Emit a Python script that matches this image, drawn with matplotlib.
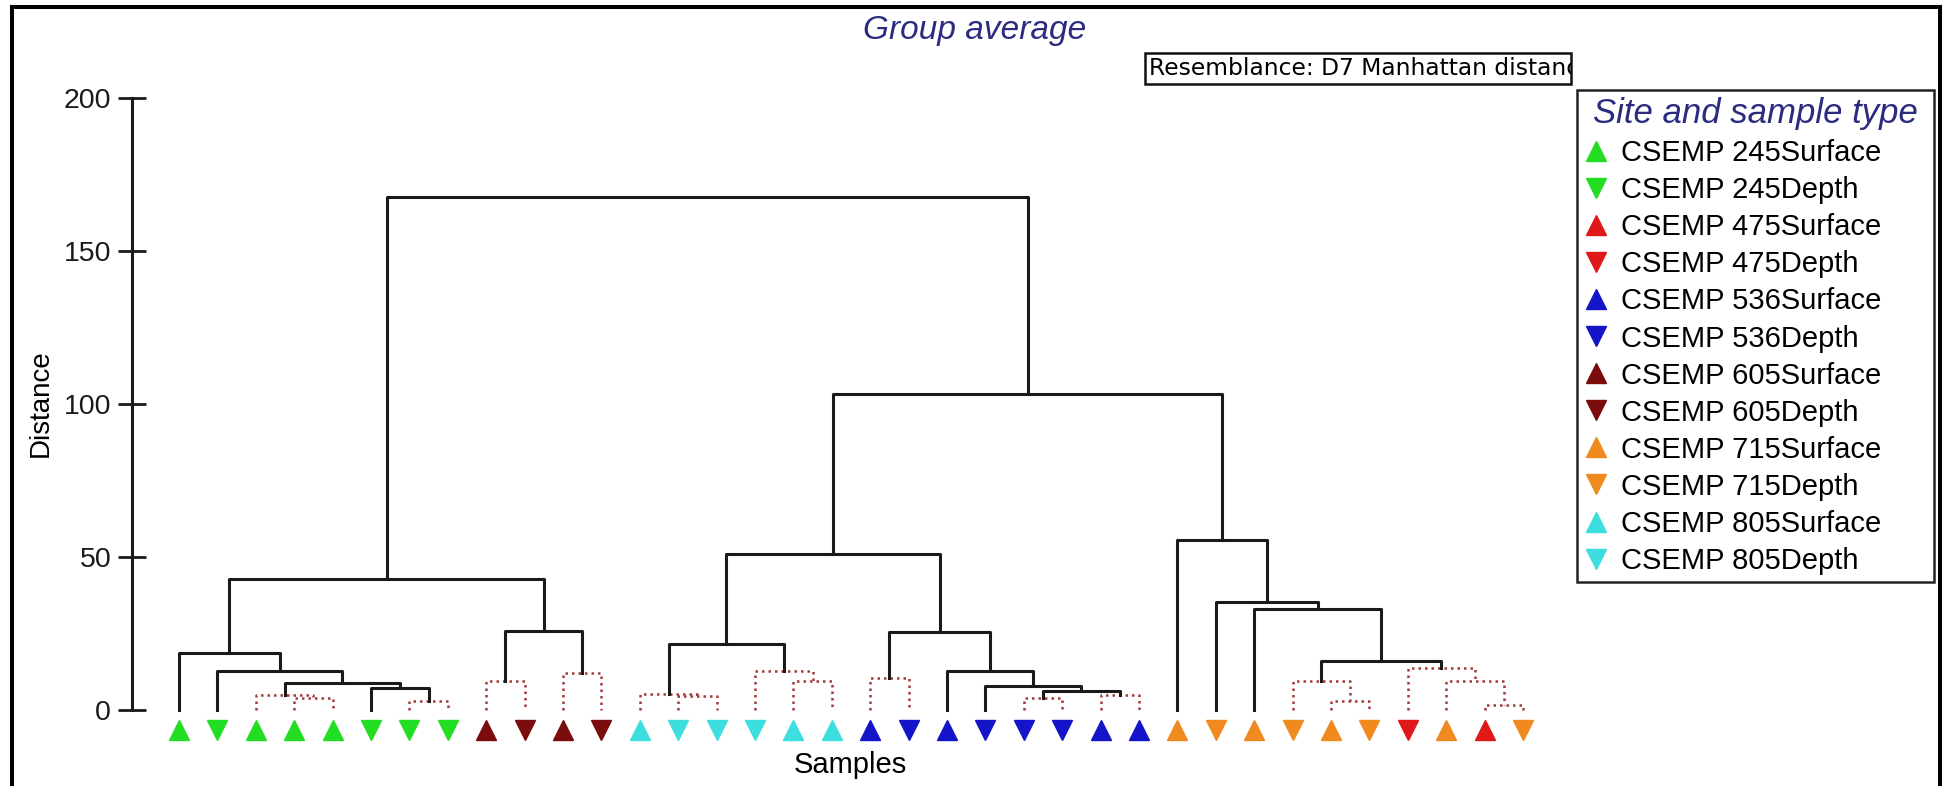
import matplotlib
matplotlib.use('Agg')
import matplotlib.pyplot as plt
from matplotlib.lines import Line2D
from matplotlib.patches import Rectangle
from matplotlib.transforms import Bbox, TransformedBbox

plt.rcParams['font.family'] = ['Liberation Sans', 'DejaVu Sans']

# samples in dendrogram order (left to right)
sample_sites = ['245'] * 8 + ['605'] * 4 + ['805'] * 6 + ['536'] * 8 + \
               ['715'] * 6 + ['475', '715', '475', '715']
sample_types = ['Surface', 'Depth', 'Surface', 'Surface', 'Surface', 'Depth', 'Depth', 'Depth',
                'Surface', 'Depth', 'Surface', 'Depth',
                'Surface', 'Depth', 'Depth', 'Depth', 'Surface', 'Surface',
                'Surface', 'Depth', 'Surface', 'Depth', 'Depth', 'Depth', 'Surface', 'Surface',
                'Surface', 'Depth', 'Surface', 'Depth', 'Surface', 'Depth',
                'Depth', 'Surface', 'Surface', 'Depth']

# group-average linkage: ids 0..35 are samples, 36.. are earlier merges
merge_left = [3, 2, 6, 5, 37, 1, 0,
              8, 10, 43, 42,
              13, 12, 16, 15, 48,
              18, 22, 24, 53, 21, 20, 52, 51,
              30, 29, 34, 33, 32, 61, 28, 27, 26,
              59, 46]
merge_right = [4, 36, 7, 38, 39, 40, 41,
               9, 11, 44, 45,
               14, 47, 17, 49, 50,
               19, 23, 25, 54, 55, 56, 57, 58,
               31, 60, 35, 62, 63, 64, 65, 66, 67,
               68, 69]
merge_height = [3.8, 4.9, 3.0, 7.2, 8.7, 12.7, 18.5,
                9.5, 12.0, 25.9, 42.7,
                4.6, 5.3, 9.5, 12.8, 21.5,
                10.5, 4.0, 4.9, 6.3, 7.8, 12.7, 25.6, 51.0,
                2.9, 9.5, 1.6, 9.5, 13.8, 16.0, 32.9, 35.4, 55.5,
                103.2, 167.7]
# solid = significant split, dotted = not significantly different
merge_solid = [False, False, False, True, True, True, True,
               False, False, True, True,
               False, False, False, False, True,
               False, False, False, True, True, True, True, True,
               False, False, False, False, False, True, True, True, True,
               True, True]

legend_sites = ['245', '245', '475', '475', '536', '536', '605', '605', '715', '715', '805', '805']
legend_types = ['Surface', 'Depth'] * 6

site_colours = {'245': '#22dd22', '475': '#e01818', '536': '#1414c8',
                '605': '#7a0c0c', '715': '#f0891e', '805': '#3cdede'}
type_markers = {'Surface': '^', 'Depth': 'v'}

W, H = 1944, 786
fig = plt.figure(figsize=(W / 100, H / 100), dpi=100)

# axes placed so leaves sit where the reference puts them
ax_left, ax_right, ax_top, ax_bottom = 131.7, 1560, 98, 756
ax = fig.add_axes([ax_left / W, 1 - ax_bottom / H, (ax_right - ax_left) / W, (ax_bottom - ax_top) / H])
ax.set_xlim((ax_left - 179) / 38.4, (ax_right - 179) / 38.4)
ax.set_ylim(-15, 200)

# dendrogram links
n = len(sample_sites)
node_x = list(range(n))
node_h = [0.0] * n
for a, b, h, solid in zip(merge_left, merge_right, merge_height, merge_solid):
    xa, xb = node_x[a], node_x[b]
    ha, hb = node_h[a], node_h[b]
    if solid:
        ax.plot([xa, xa, xb, xb], [ha, h, h, hb], color='#1a1a1a', lw=2.2, zorder=3)
    else:
        ax.plot([xa, xa, xb, xb], [ha, h, h, hb], color='#a33a3a', lw=1.8,
                ls=(0, (1, 1.6)), zorder=2)
    node_x.append((xa + xb) / 2.0)
    node_h.append(h)

# sample symbols
for i, (s, t) in enumerate(zip(sample_sites, sample_types)):
    ax.plot(i, -6.5, marker=type_markers[t], color=site_colours[s], ms=15,
            ls='none', clip_on=False)

for side in ['top', 'right', 'bottom']:
    ax.spines[side].set_visible(False)
ax.spines['left'].set_bounds(0, 200)
ax.spines['left'].set_linewidth(2.2)
ax.spines['left'].set_color('#1a1a1a')
ax.set_xticks([])
ax.set_yticks([0, 50, 100, 150, 200])
ax.tick_params(axis='y', direction='inout', length=19.5, width=2, pad=5,
               labelsize=20.5, colors='#1a1a1a')
ax.set_ylabel('Distance', fontsize=20)
ax.yaxis.set_label_coords((54 - ax_left) / (ax_right - ax_left), (ax_bottom - 403) / (ax_bottom - ax_top))

fig.text(850 / W, 1 - 765 / H, 'Samples', ha='center', va='center', fontsize=21)
fig.text(975 / W, 1 - 30 / H, 'Group average', ha='center', va='center', fontsize=24,
         style='italic', color='#2b2b7f')

# resemblance box, text cut off at its right edge as in the original
bx0, bx1, by0, by1 = 1145, 1571, 53, 84
fig.add_artist(Rectangle((bx0 / W, 1 - by1 / H), (bx1 - bx0) / W, (by1 - by0) / H,
                         transform=fig.transFigure, fill=False, lw=1.8, ec='#111111'))
rt = fig.text((bx0 + 4) / W, 1 - (by0 + by1) / 2 / H, 'Resemblance: D7 Manhattan distance',
              ha='left', va='center', fontsize=16.8, family='DejaVu Sans', clip_on=True)
rt.set_clip_box(TransformedBbox(Bbox.from_extents(bx0 / W, 1 - by1 / H, bx1 / W, 1 - by0 / H),
                                fig.transFigure))

# outer frame
fig.add_artist(Rectangle((12 / W, -0.02), (1940 - 12) / W, 1.02 - 7 / H,
                         transform=fig.transFigure, fill=False, lw=2.9, ec='black'))

# legend
handles = [Line2D([], [], ls='none', marker=type_markers[t], color=site_colours[s], ms=15)
           for s, t in zip(legend_sites, legend_types)]
labels = ['CSEMP %s%s' % (s, t) for s, t in zip(legend_sites, legend_types)]
leg = ax.legend(handles, labels, loc='upper left',
                bbox_to_anchor=(1577 / W, 1 - 579 / H, 357 / W, 489 / H),
                bbox_transform=fig.transFigure, mode='expand', borderaxespad=0,
                fancybox=False, edgecolor='#222222', framealpha=1,
                prop={'size': 21}, title='Site and sample type',
                title_fontproperties={'style': 'italic', 'size': 25},
                handlelength=0.8, handletextpad=0.45, labelspacing=0.31, borderpad=0.25)
leg.get_title().set_color('#2b2b7f')
leg.get_frame().set_linewidth(1.8)

fig.savefig('out.png', dpi=100)
